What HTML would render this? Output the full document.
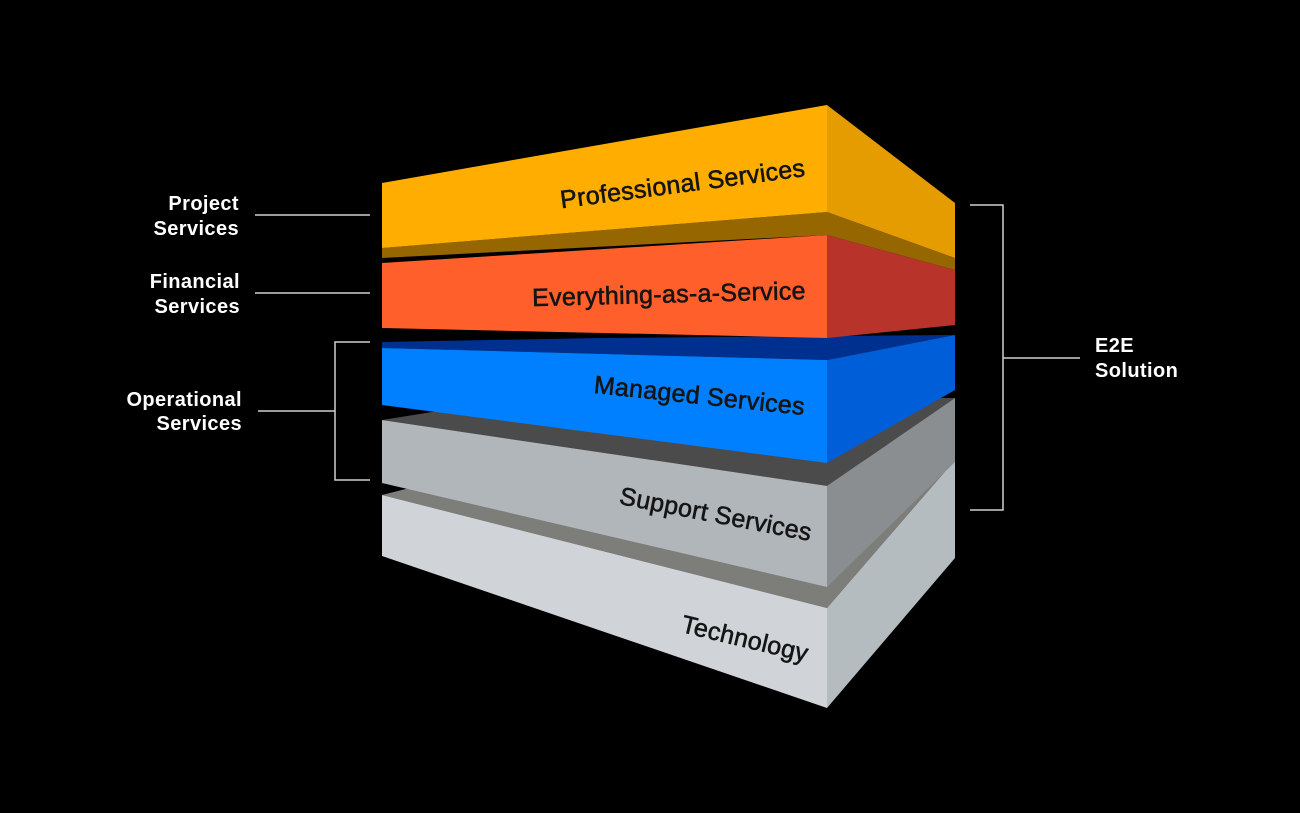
<!DOCTYPE html>
<html><head><meta charset="utf-8"><style>
html,body{margin:0;padding:0;background:#000;}
svg{display:block;}
.lbl{font-family:"Liberation Sans",sans-serif;font-weight:bold;font-size:20px;fill:#fff;letter-spacing:0.4px;}
.slab{font-family:"Liberation Sans",sans-serif;font-size:25px;fill:#151515;stroke:#151515;stroke-width:0.6px;letter-spacing:0.3px;}
</style></head><body>
<svg width="1300" height="813" viewBox="0 0 1300 813" xmlns="http://www.w3.org/2000/svg">
<rect width="1300" height="813" fill="#000"/>
<!-- Technology -->
<polygon points="382,495 520,460 955,460 827,608" fill="#7d7e7a"/>
<polygon points="382,495 827,608 827,708 382,556" fill="#d0d4d9"/>
<polygon points="827,608 955,460 955,558 827,708" fill="#b5bcc0"/>
<!-- Support -->
<polygon points="382,420 520,398 955,398 827,486" fill="#4b4b4b"/>
<polygon points="382,420 827,486 827,587 382,483" fill="#b1b6bb"/>
<polygon points="827,486 955,398 955,462 827,587" fill="#8a8e91"/>
<!-- Managed -->
<polygon points="382,342 600,338 955,335 827,360 382,348" fill="#00308f"/>
<polygon points="382,348 827,360 827,463 382,405" fill="#0080ff"/>
<polygon points="827,360 955,335 955,390 827,463" fill="#005ed8"/>
<!-- Everything -->
<polygon points="382,263 827,235 827,338 382,328" fill="#ff5f2a"/>
<polygon points="827,235 955,270 955,325 827,338" fill="#b8332a"/>
<!-- Professional -->
<polygon points="382,248 827,212 955,258 955,270 827,235 382,258" fill="#966600"/>
<polygon points="382,183 827,105 827,212 382,248" fill="#ffae00"/>
<polygon points="827,105 955,203 955,258 827,212" fill="#e59c00"/>
<!-- slab labels -->
<text class="slab" x="806" y="176" text-anchor="end" transform="rotate(-7.5 806 176)">Professional Services</text>
<text class="slab" x="806" y="299" text-anchor="end" transform="rotate(-1.5 806 299)">Everything-as-a-Service</text>
<text class="slab" x="804" y="415" text-anchor="end" transform="rotate(6 804 415)">Managed Services</text>
<text class="slab" x="810" y="541" text-anchor="end" transform="rotate(11 810 541)">Support Services</text>
<text class="slab" x="806" y="662" text-anchor="end" transform="rotate(13.5 806 662)">Technology</text>
<!-- left labels -->
<text class="lbl" x="239" y="210" text-anchor="end">Project</text>
<text class="lbl" x="239" y="235" text-anchor="end">Services</text>
<text class="lbl" x="240" y="288" text-anchor="end">Financial</text>
<text class="lbl" x="240" y="313" text-anchor="end">Services</text>
<text class="lbl" x="242" y="406" text-anchor="end">Operational</text>
<text class="lbl" x="242" y="430" text-anchor="end">Services</text>
<g stroke="#cfcfcf" stroke-width="1.5" fill="none">
<line x1="255" y1="215" x2="370" y2="215"/>
<line x1="255" y1="293" x2="370" y2="293"/>
<line x1="258" y1="411" x2="335" y2="411"/>
<polyline points="370,342 335,342 335,480 370,480"/>
<polyline points="970,205 1003,205 1003,510 970,510"/>
<line x1="1003" y1="358" x2="1080" y2="358"/>
</g>
<text class="lbl" x="1095" y="352">E2E</text>
<text class="lbl" x="1095" y="377">Solution</text>
</svg>
</body></html>
